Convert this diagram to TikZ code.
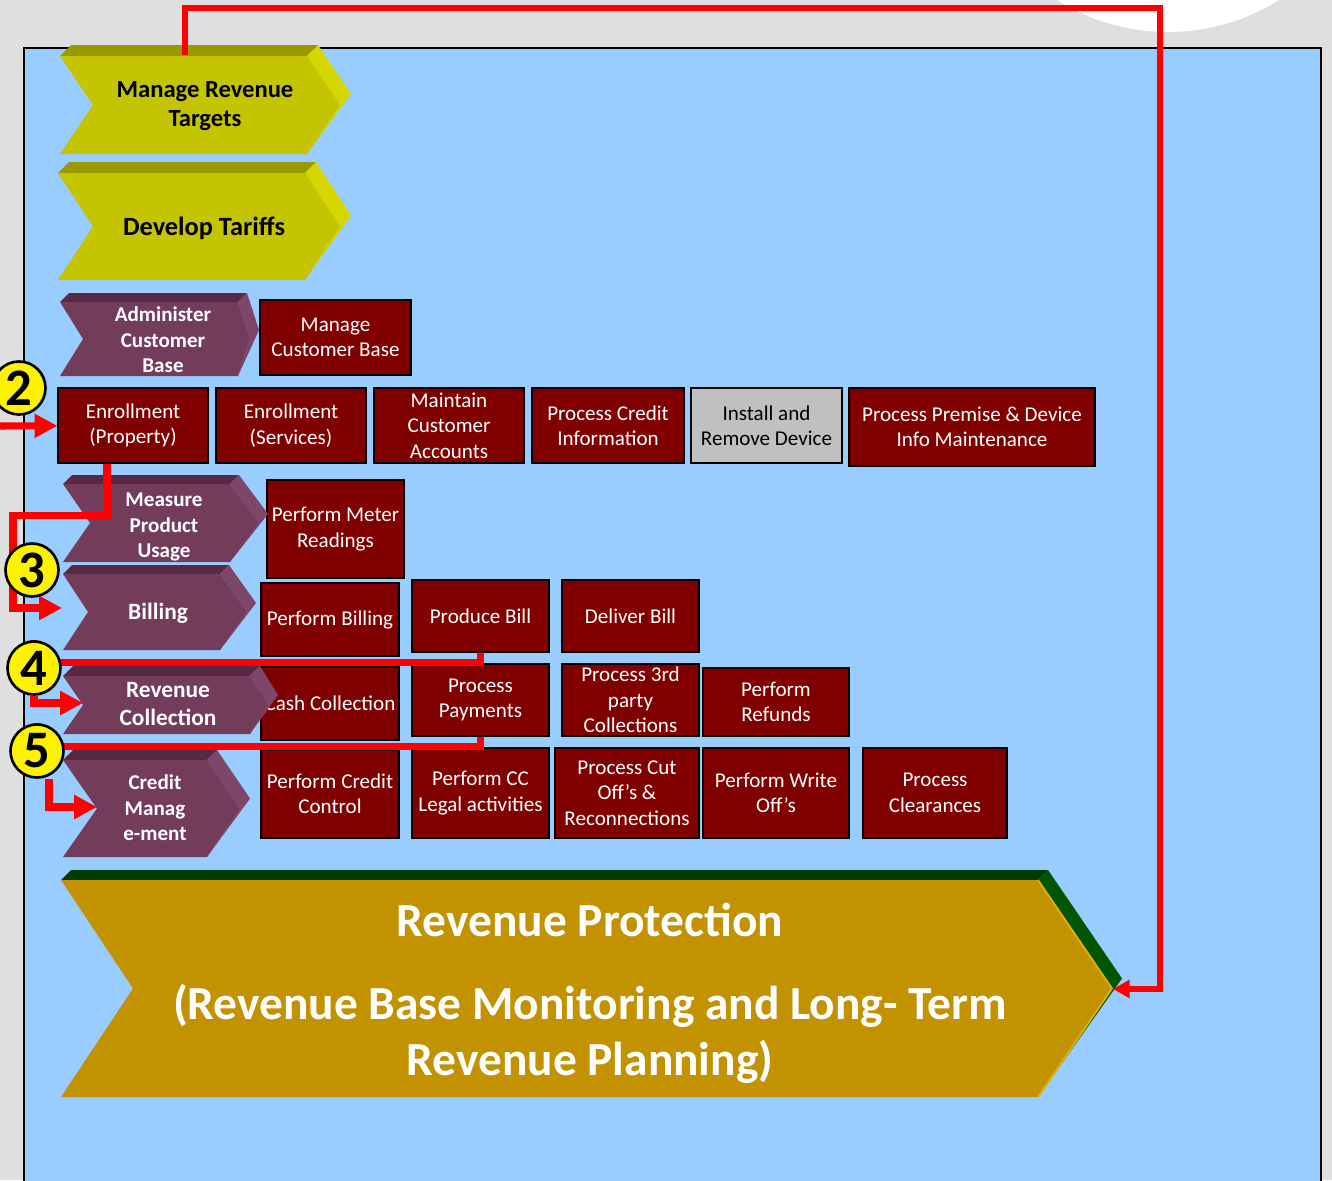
\documentclass[tikz,border=0pt]{standalone}
\usepackage{fontspec}
\setmainfont{Carlito}
\usetikzlibrary{arrows.meta}
\definecolor{bggrey}{RGB}{223,223,223}
\definecolor{skyblue}{RGB}{153,204,255}
\definecolor{boxred}{RGB}{128,0,0}
\definecolor{boxgrey}{RGB}{192,192,192}
\definecolor{yelfront}{RGB}{196,196,0}
\definecolor{yeltop}{RGB}{153,153,0}
\definecolor{yelside}{RGB}{214,214,0}
\definecolor{purfront}{RGB}{114,60,90}
\definecolor{purtop}{RGB}{88,40,68}
\definecolor{purside}{RGB}{126,70,104}
\definecolor{goldfront}{RGB}{194,146,0}
\definecolor{goldtop}{RGB}{0,60,0}
\definecolor{goldside}{RGB}{0,85,0}
\definecolor{goldedge}{RGB}{228,178,0}
\pgfdeclarelayer{front}
\pgfsetlayers{main,front}
\begin{document}
\begin{tikzpicture}[x=0.02cm, y=-0.02cm, line join=miter,
	procbox/.style={draw=black, line width=0.7pt, fill=boxred, text=white, align=center, inner sep=0pt, font=\fontsize{12}{14.5}\selectfont},
	chevtext/.style={text=white, align=center, inner sep=0pt, font=\bfseries\fontsize{12}{14.5}\selectfont},
	rptext/.style={text=white, align=center, inner sep=0pt, font=\bfseries\fontsize{27}{32}\selectfont},
	numball/.style={circle, draw=black, line width=1.5pt, fill=yellow, minimum size=1.06cm, inner sep=0pt, font=\bfseries\fontsize{30}{30}\selectfont},
	redline/.style={draw=red, line width=4pt},
	redarrow/.style={redline, -{Triangle[length=13pt,width=13pt]}}]
	\useasboundingbox (0,0) rectangle (1332,1180);
	\clip (0,0) rectangle (1332,1180);
	\fill[bggrey] (0,0) rectangle (1332,1180);
	\fill[white] (1168,-176) circle[radius=4.16cm];
	\draw[line width=1.2pt, fill=skyblue] (24,48) rectangle (1321,1200);
	% yellow chevrons
	\foreach \xa/\ya/\yb/\xn/\xr/\xt/\d in {60/56/154/93/307/340/11, 58/173/280/93/305/340/11}{
		\pgfmathsetmacro\ym{(\ya+\yb)/2}
		\fill[yeltop] (\xa,\ya) -- (\xa+\d,\ya-\d) -- (\xr+\d,\ya-\d) -- (\xr,\ya) -- cycle;
		\fill[yelside] (\xr,\ya) -- (\xr+\d,\ya-\d) -- (\xt+\d,\ym-\d) -- (\xr,\yb) -- (\xt,\ym) -- cycle;
		\fill[yelfront] (\xa,\ya) -- (\xr,\ya) -- (\xt,\ym) -- (\xr,\yb) -- (\xa,\yb) -- (\xn,\ym) -- cycle;
	}
	\node[chevtext, text=black, font=\bfseries\fontsize{14}{16.5}\selectfont] (mrt) at (205,106) {Manage Revenue\\Targets};
	\node[chevtext, text=black, font=\bfseries\fontsize{15}{18}\selectfont] (dt) at (204,228) {Develop Tariffs};
	% process boxes
	\foreach \n/\xa/\ya/\xb/\yb/\t in {
		mcb/260/300/411/375/{Manage\\Customer Base},
		ep/58/388/208/463/{Enrollment\\(Property)},
		es/216/388/366/463/{Enrollment\\(Services)},
		mca/374/388/524/463/{Maintain\\Customer\\Accounts},
		pci/532/388/684/463/{Process Credit\\Information},
		ppd/849/388/1095/466/{Process Premise \& Device\\Info Maintenance},
		pmr/267/480/404/578/{Perform Meter\\Readings},
		pbl/261/583/399/656/{Perform Billing},
		pb/412/580/549/652/{Produce Bill},
		db/562/580/699/652/{Deliver Bill},
		cc/261/667/399/740/{Cash Collection},
		pp/412/664/549/736/{Process\\Payments},
		ptc/562/664/699/736/{Process 3rd\\party\\Collections},
		pr/703/668/849/736/{Perform\\Refunds},
		pcc/261/750/399/838/{Perform Credit\\Control},
		pla/412/748/549/838/{Perform CC\\Legal activities},
		pco/555/748/699/838/{Process Cut\\Off’s \&\\Reconnections},
		pwo/703/748/849/838/{Perform Write\\Off’s},
		pcl/863/748/1007/838/{Process\\Clearances}}
	\node[procbox, minimum width={(\xb-\xa)*0.02cm}, minimum height={(\yb-\ya)*0.02cm}] (\n) at ({(\xa+\xb)/2},{(\ya+\yb)/2}) {\t};
	\node[procbox, fill=boxgrey, text=black, minimum width=3.02cm, minimum height=1.5cm] (ird) at (766.5,425.5) {Install and\\Remove Device};
	% purple chevrons
	\foreach \xa/\ya/\yb/\xn/\xr/\xt/\d in {60/302/376/83/238/250/9, 63/484/562/90/230/259/9, 63/574/650/88/220/247/9, 63/676/734/83/250/268/10, 63/760/857/97/207/240/10}{
		\pgfmathsetmacro\ym{(\ya+\yb)/2}
		\fill[purtop] (\xa,\ya) -- (\xa+\d,\ya-\d) -- (\xr+\d,\ya-\d) -- (\xr,\ya) -- cycle;
		\fill[purside] (\xr,\ya) -- (\xr+\d,\ya-\d) -- (\xt+\d,\ym-\d) -- (\xr,\yb) -- (\xt,\ym) -- cycle;
		\fill[purfront] (\xa,\ya) -- (\xr,\ya) -- (\xt,\ym) -- (\xr,\yb) -- (\xa,\yb) -- (\xn,\ym) -- cycle;
	}
	\node[chevtext] (acb) at (163,340) {Administer\\Customer\\Base};
	\node[chevtext] (mpu) at (164,527) {Measure\\Product\\Usage};
	\node[chevtext, font=\bfseries\fontsize{13.3}{16}\selectfont] (bil) at (158,613) {Billing};
	\node[chevtext, font=\bfseries\fontsize{13.3}{16}\selectfont] (rc) at (168,704) {Revenue\\Collection};
	\node[chevtext] (cm) at (155,808) {Credit\\Manag\\e-ment};
	% revenue protection
	\fill[goldtop] (61,880) -- (71,870) -- (1048,870) -- (1038,880) -- cycle;
	\fill[goldside] (1038,880) -- (1048,870) -- (1122,978.5) -- (1038,1097) -- (1112,988.5) -- cycle;
	\fill[goldfront] (61,880) -- (1038,880) -- (1112,988.5) -- (1038,1097) -- (61,1097) -- (133,988.5) -- cycle;
	\draw[goldedge, line width=1pt] (1038,880) -- (1112,988.5) -- (1038,1097);
	\node[rptext] (rp) at (590,920) {Revenue Protection};
	\node[rptext] (rpsub) at (590,1034) {(Revenue Base Monitoring and Long- Term\\Revenue Planning)};
	% numbered markers
	\begin{pgfonlayer}{front}
		\node[numball] (n2) at (19,388) {2};
		\node[numball] (n3) at (32,570) {3};
		\node[numball] (n4) at (34,668) {4};
		\node[numball] (n5) at (37,751) {5};
	\end{pgfonlayer}
	% red links
	\coordinate (in2) at (0,426);
	\coordinate (bilIn) at (62,608);
	\coordinate (rcIn) at (83,703);
	\coordinate (cmIn) at (97,807);
	\coordinate (mrtTop) at (185,55);
	\coordinate (rpTip) at (1113,989);
	\draw[redarrow] (in2) -- (ep);
	\draw[redline] ([xshift=-0.52cm]ep.south) -- ++(0,52) -| ([xshift=-0.38cm]n3.center);
	\draw[redarrow] ([xshift=-0.38cm]n3.center) |- (bilIn);
	\draw[redline] (pb.south) -- ++(0,10) -| (n4);
	\draw[redarrow] (n4) |- (rcIn);
	\draw[redline] (pp.south) -- ++(0,10) -| (n5);
	\draw[redarrow] ([xshift=0.24cm]n5.south) |- (cmIn);
	\draw[redline, line width=3pt, -{Triangle[length=9.5pt,width=10pt]}] (mrtTop) |- (1160,8) |- (rpTip);
\end{tikzpicture}
\end{document}
